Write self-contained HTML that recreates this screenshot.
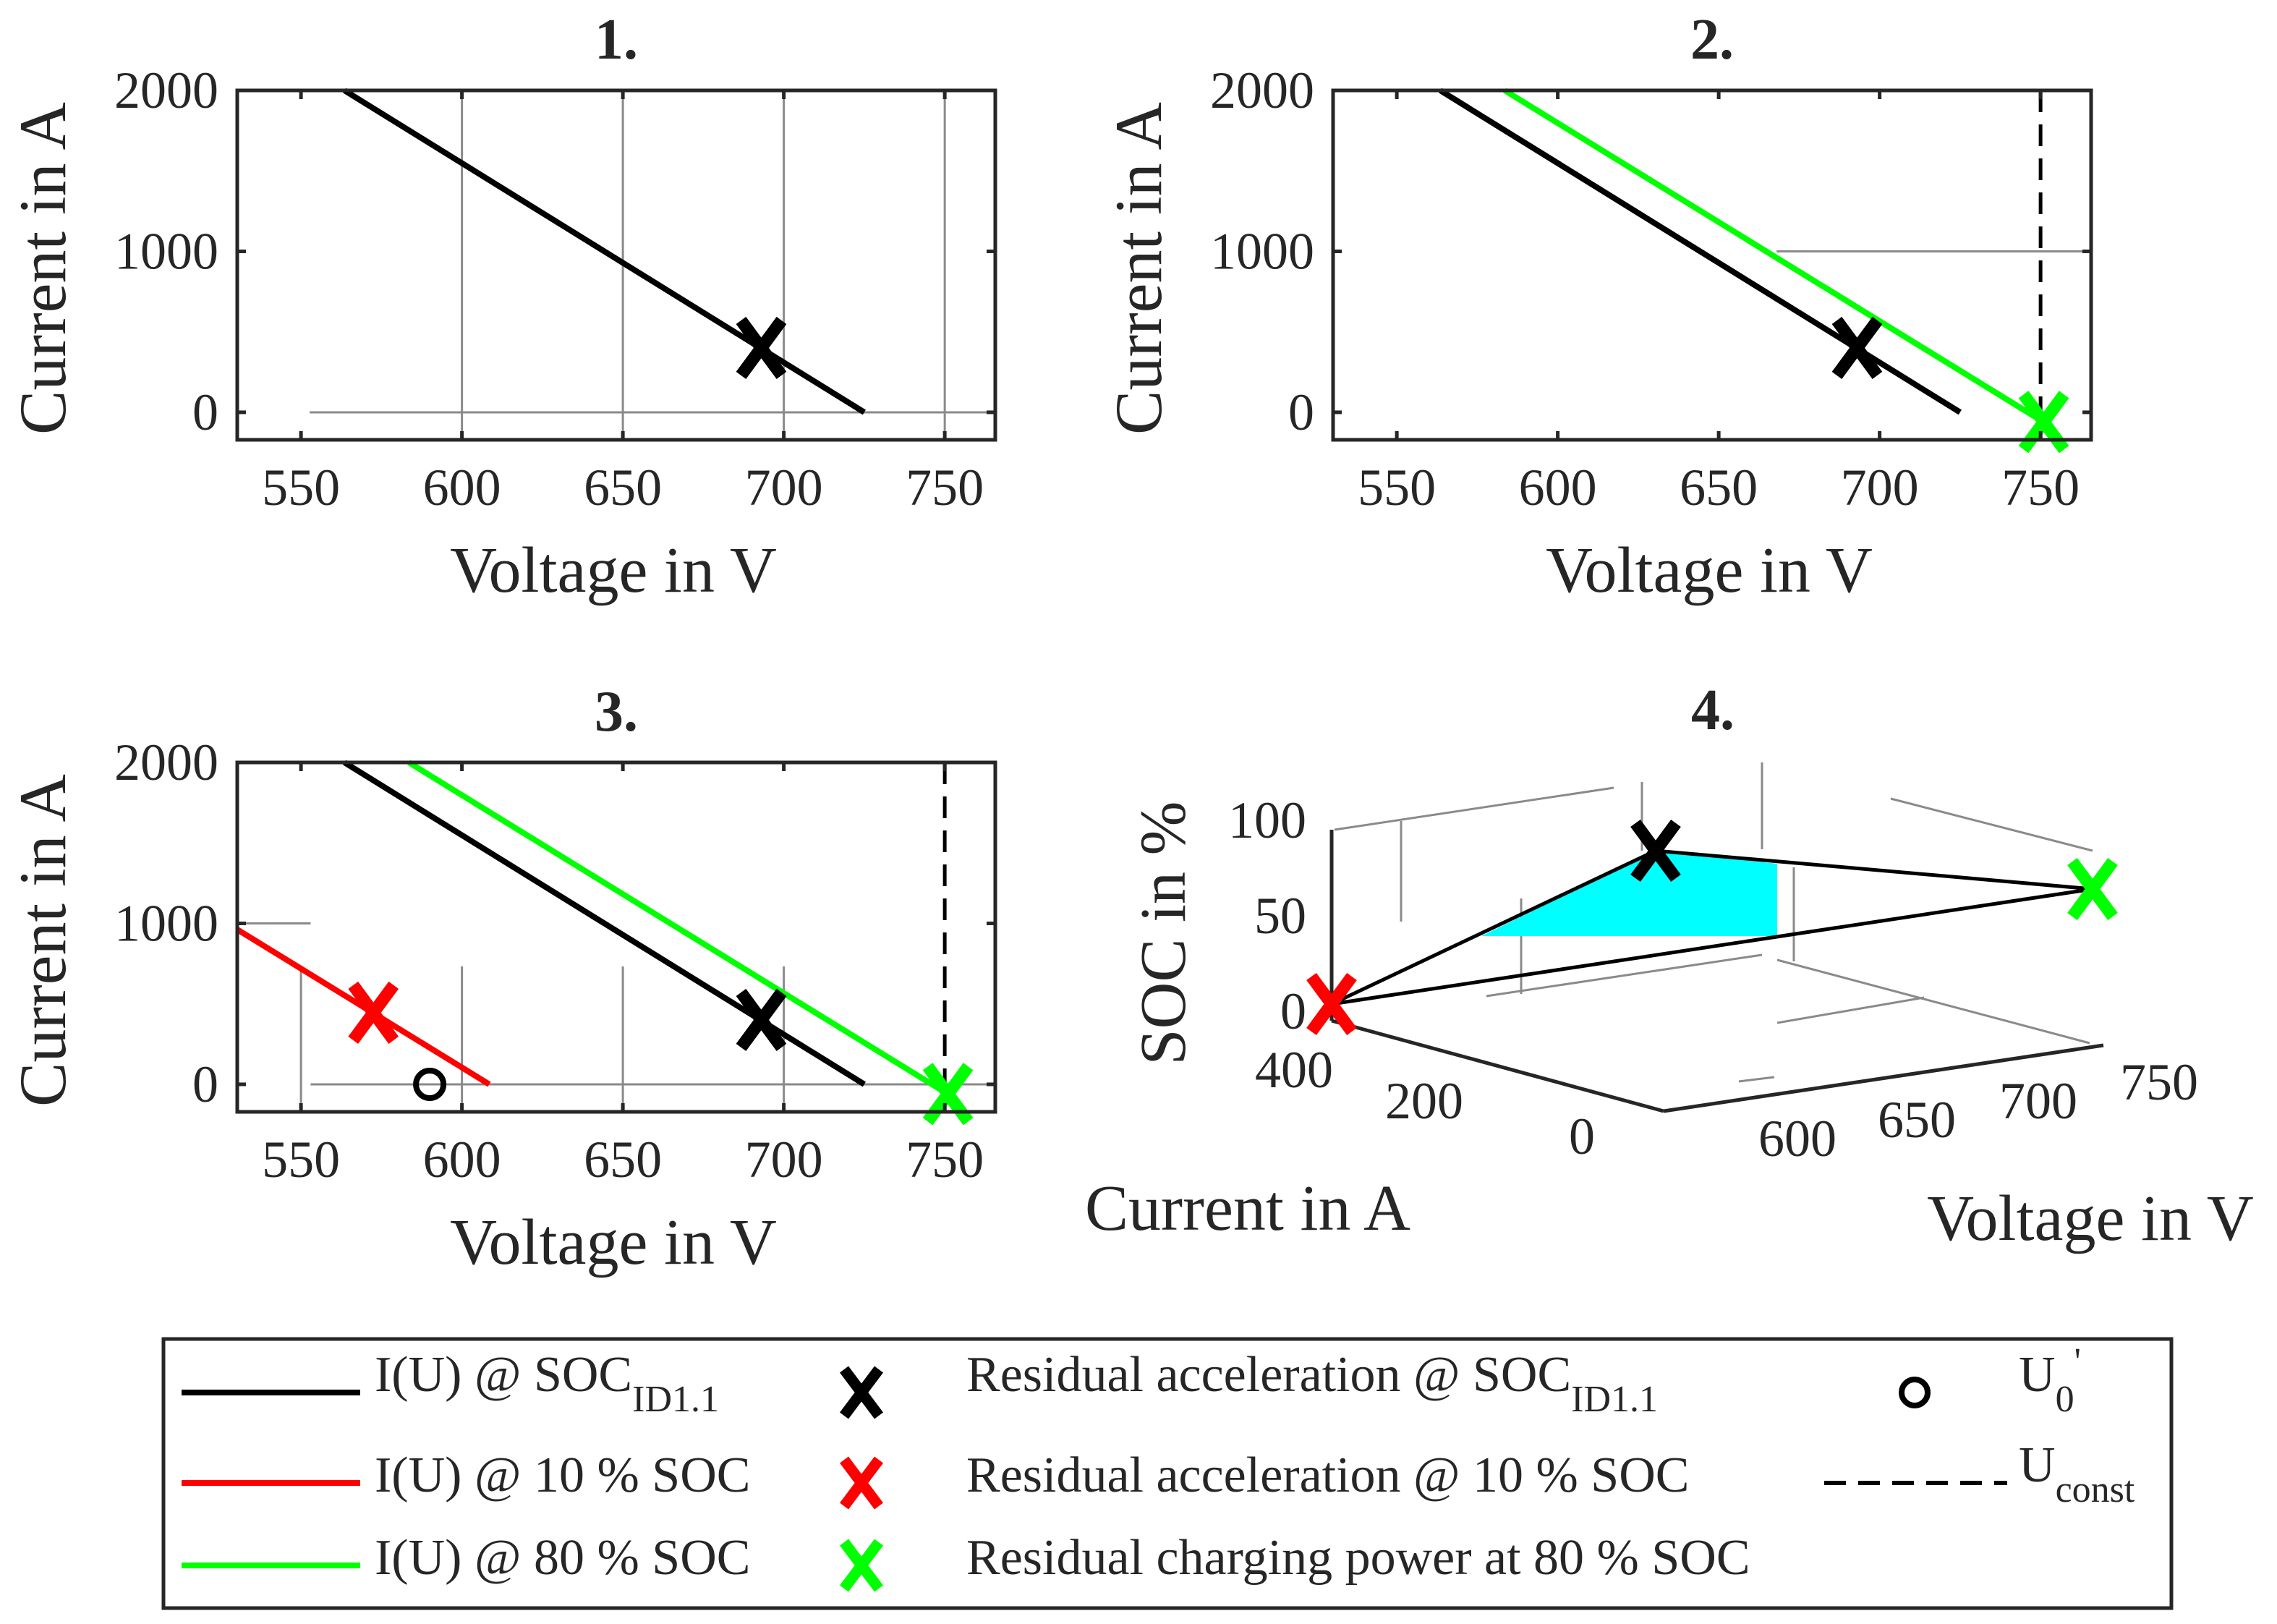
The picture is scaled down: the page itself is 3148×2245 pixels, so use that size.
<!DOCTYPE html>
<html><head><meta charset="utf-8"><style>
html,body{margin:0;padding:0;background:#fff}
svg{display:block}
text{font-family:"Liberation Serif",serif;fill:#262626}
</style></head><body>
<svg id="fig" width="3148" height="2245" viewBox="0 0 3148 2245" xmlns="http://www.w3.org/2000/svg">
<g id="root"></g>
<g id="legend">
  <rect x="226" y="1851" width="2776" height="372" fill="#fff" stroke="#262626" stroke-width="5"/>
  <g>
    <line x1="251" y1="1925" x2="498" y2="1925" stroke="#000" stroke-width="8"/>
    <text x="518" y="1923" font-size="70" fill="#000">I(U) @ SOC<tspan font-size="52" dy="28">ID1.1</tspan></text>
  </g>
  <g>
    <line x1="251" y1="2050" x2="498" y2="2050" stroke="#f00" stroke-width="8"/>
    <text x="518" y="2062" font-size="70" fill="#000">I(U) @ 10 % SOC</text>
  </g>
  <g>
    <line x1="251" y1="2164" x2="498" y2="2164" stroke="#0f0" stroke-width="8"/>
    <text x="518" y="2176" font-size="70" fill="#000">I(U) @ 80 % SOC</text>
  </g>
  <g>
    <path d="M1167,1893 L1215,1957 M1215,1893 L1167,1957" stroke="#000" stroke-width="15"/>
    <text x="1336" y="1923" font-size="70" fill="#000">Residual acceleration @ SOC<tspan font-size="52" dy="28">ID1.1</tspan></text>
  </g>
  <g>
    <path d="M1167,2018 L1215,2082 M1215,2018 L1167,2082" stroke="#f00" stroke-width="15"/>
    <text x="1336" y="2062" font-size="70" fill="#000">Residual acceleration @ 10 % SOC</text>
  </g>
  <g>
    <path d="M1167,2132 L1215,2196 M1215,2132 L1167,2196" stroke="#0f0" stroke-width="15"/>
    <text x="1336" y="2176" font-size="70" fill="#000">Residual charging power at 80 % SOC</text>
  </g>
  <g>
    <circle cx="2647" cy="1925" r="18" fill="none" stroke="#000" stroke-width="8"/>
    <text x="2791" y="1923" font-size="70" fill="#000">U<tspan font-size="52" dy="28">0</tspan><tspan dy="-52" font-size="52">'</tspan></text>
  </g>
  <g>
    <line x1="2522" y1="2050" x2="2775" y2="2050" stroke="#000" stroke-width="6" stroke-dasharray="30,17"/>
    <text x="2791" y="2048" font-size="70" fill="#000">U<tspan font-size="52" dy="28">const</tspan></text>
  </g>
</g>
</svg>
<script>
// ---- data ----
const xTicks = [550, 600, 650, 700, 750];
const yTicks = [0, 1000, 2000];
const blackLineV = [563.5, 725];
const blackLineI = [2000, 0];
const greenLineV = [583.5, 750.5];
const greenLineI = [2000, -55];
const redLineV = [530.2, 608.5];
const redLineI = [962, 0];
const blackX = [693, 400];
const greenX = [751, -60];
const redX = [572.5, 445];
const u0Point = [590, 0];
const uConst = 750;
const p4Points = [[1841,1388],[2289,1176],[2893,1229]];

const NS = 'http://www.w3.org/2000/svg';
const root = document.getElementById('root');
function mk(tag, attrs, parent) {
  const e = document.createElementNS(NS, tag);
  for (const k in attrs) e.setAttribute(k, attrs[k]);
  (parent || root).appendChild(e);
  return e;
}
const XMIN = 530.2, XMAX = 765.7, YMIN = -171, YMAX = 2000;

function panel(id, left, top, title) {
  const W = 1048, H = 483;
  const g = mk('g', {});
  
  
  const sx = v => left + (v - XMIN) / (XMAX - XMIN) * W;
  const sy = i => top + (YMAX - i) / (YMAX - YMIN) * H;
  return { g, sx, sy, left, top, W, H, title, id };
}
function frame(p) {
  const { g, sx, sy, left, top, W, H } = p;
  const fr = mk('rect', { x: left, y: top, width: W, height: H, fill: 'none', stroke: '#262626', 'stroke-width': 5 }, g);
  
  
  xTicks.forEach(v => {
    mk('line', { x1: sx(v), y1: top + H, x2: sx(v), y2: top + H - 12, stroke: '#262626', 'stroke-width': 5 }, g);
    mk('line', { x1: sx(v), y1: top, x2: sx(v), y2: top + 12, stroke: '#262626', 'stroke-width': 5 }, g);
    const t = mk('text', { x: sx(v), y: top + H + 90, 'font-size': 72, 'text-anchor': 'middle' }, g);
    t.textContent = v;
    
    
  });
  yTicks.forEach(i => {
    mk('line', { x1: left, y1: sy(i), x2: left + 12, y2: sy(i), stroke: '#262626', 'stroke-width': 5 }, g);
    mk('line', { x1: left + W, y1: sy(i), x2: left + W - 12, y2: sy(i), stroke: '#262626', 'stroke-width': 5 }, g);
    const t = mk('text', { x: left - 26, y: sy(i) + 24, 'font-size': 72, 'text-anchor': 'end' }, g);
    t.textContent = i;
    
    
  });
  const xt = mk('text', { x: left + 520, y: top + H + 210, 'font-size': 90, 'text-anchor': 'middle' }, g);
  xt.textContent = 'Voltage in V';
  
  
  const yt = mk('text', { x: 0, y: 0, 'font-size': 92, 'text-anchor': 'middle', transform: `translate(${left - 238},${top + 246}) rotate(-90)` }, g);
  yt.textContent = 'Current in A';
  
  
  const tt = mk('text', { x: left + 524, y: top - 44, 'font-size': 80, 'font-weight': 'bold', 'text-anchor': 'middle', fill: '#000' }, g);
  tt.textContent = p.title;
  
  
}
function grid(p, x1, y1, x2, y2) {
  const l = mk('line', { x1: p.sx(x1), y1: p.sy(y1), x2: p.sx(x2), y2: p.sy(y2), stroke: '#8a8a8a', 'stroke-width': 3 }, p.g);
  
  
}
function series(p, vs, is, color, name, dash) {
  const l = mk('line', { x1: p.sx(vs[0]), y1: p.sy(is[0]), x2: p.sx(vs[1]), y2: p.sy(is[1]), stroke: color, 'stroke-width': 8 }, p.g);
  if (dash) l.setAttribute('stroke-dasharray', dash);
  
  
}
function xmark(g, cx, cy, color, name) {
  const m = mk('path', { d: `M${cx - 28},${cy - 38} L${cx + 28},${cy + 38} M${cx + 28},${cy - 38} L${cx - 28},${cy + 38}`, stroke: color, 'stroke-width': 17, fill: 'none' }, g);
  
  
}
function vline(p, v, name) {
  const l = mk('line', { x1: p.sx(v), y1: p.top, x2: p.sx(v), y2: p.top + p.H, stroke: '#000', 'stroke-width': 5, 'stroke-dasharray': '30,17' }, p.g);
  
  
}

// Panel 1
const p1 = panel(1, 328, 125, '1.');
[600, 650, 700, 750].forEach(v => grid(p1, v, YMIN, v, YMAX));
grid(p1, 552.7, 0, XMAX, 0);
series(p1, blackLineV, blackLineI, '#000', 'iu-line-soc-id11');
xmark(p1.g, p1.sx(blackX[0]), p1.sy(blackX[1]), '#000', 'residual-accel-marker');
frame(p1);

// Panel 2
const p2 = panel(2, 1843, 125, '2.');
grid(p2, 668, 1000, XMAX, 1000);
series(p2, blackLineV, blackLineI, '#000', 'iu-line-soc-id11');
series(p2, greenLineV, greenLineI, '#0f0', 'iu-line-80-soc');
vline(p2, uConst, 'u-const-line');
xmark(p2.g, p2.sx(blackX[0]), p2.sy(blackX[1]), '#000', 'residual-accel-marker');
xmark(p2.g, p2.sx(greenX[0]), p2.sy(greenX[1]), '#0f0', 'residual-charging-marker');
frame(p2);

// Panel 3
const p3 = panel(3, 328, 1054, '3.');
grid(p3, XMIN, 1000, 553, 1000);
grid(p3, 553, 0, XMAX, 0);
[550, 600, 650, 700].forEach(v => grid(p3, v, YMIN, v, 733));
series(p3, redLineV, redLineI, '#f00', 'iu-line-10-soc');
series(p3, blackLineV, blackLineI, '#000', 'iu-line-soc-id11');
series(p3, greenLineV, greenLineI, '#0f0', 'iu-line-80-soc');
vline(p3, uConst, 'u-const-line');
const c = mk('circle', { cx: p3.sx(u0Point[0]), cy: p3.sy(u0Point[1]), r: 19, fill: 'none', stroke: '#000', 'stroke-width': 8 }, p3.g);


xmark(p3.g, p3.sx(redX[0]), p3.sy(redX[1]), '#f00', 'residual-accel-10-marker');
xmark(p3.g, p3.sx(blackX[0]), p3.sy(blackX[1]), '#000', 'residual-accel-marker');
xmark(p3.g, p3.sx(greenX[0]), p3.sy(greenX[1]), '#0f0', 'residual-charging-marker');
frame(p3);

// Panel 4 (3D)
const g4 = mk('g', {});


const grid4 = [[1845,1147,2231,1089],[1937,1135,1937,1274],[2270,1081,2270,1176],[2436,1054,2436,1174],[2614,1104,2893,1176],[2480,1199,2480,1329],[2103,1242,2103,1374],[2055,1377,2436,1320],[2457,1327,2889,1442],[2457,1414,2660,1379],[2404,1495,2453,1489]];
grid4.forEach(s => {
  const l = mk('line', { x1: s[0], y1: s[1], x2: s[2], y2: s[3], stroke: '#8a8a8a', 'stroke-width': 3 }, g4);
  
  
});
const cyan = mk('polygon', { points: '2048,1294 2289,1176 2457,1194 2457,1294', fill: '#0ff' }, g4);


const axes4 = [[1841,1147,1841,1411],[1841,1411,2300,1536],[2300,1536,2908,1445]];
axes4.forEach(s => {
  const l = mk('line', { x1: s[0], y1: s[1], x2: s[2], y2: s[3], stroke: '#262626', 'stroke-width': 5 }, g4);
  
  
});
const tri = mk('polygon', { points: p4Points.map(p => p.join(',')).join(' '), fill: 'none', stroke: '#000', 'stroke-width': 5 }, g4);


xmark(g4, p4Points[0][0], p4Points[0][1], '#f00', 'red-marker-3d');
xmark(g4, p4Points[1][0], p4Points[1][1], '#000', 'black-marker-3d');
xmark(g4, p4Points[2][0], p4Points[2][1], '#0f0', 'green-marker-3d');
const lab4 = [['100',1806,1158,'end'],['50',1806,1290,'end'],['0',1806,1422,'end'],['400',1789,1503,'middle'],['200',1969,1546,'middle'],['0',2187,1595,'middle'],['600',2485,1598,'middle'],['650',2650,1572,'middle'],['700',2818,1546,'middle'],['750',2985,1520,'middle']];
lab4.forEach(a => {
  const t = mk('text', { x: a[1], y: a[2], 'font-size': 72, 'text-anchor': a[3] }, g4);
  t.textContent = a[0];
  
  
});
const t4 = mk('text', { x: 2368, y: 1008, 'font-size': 80, 'font-weight': 'bold', 'text-anchor': 'middle', fill: '#000' }, g4);
t4.textContent = '4.';


const a1 = mk('text', { x: 1725, y: 1700, 'font-size': 90, 'text-anchor': 'middle' }, g4);
a1.textContent = 'Current in A';


const a2 = mk('text', { x: 2890, y: 1714, 'font-size': 90, 'text-anchor': 'middle' }, g4);
a2.textContent = 'Voltage in V';


const a3 = mk('text', { x: 0, y: 0, 'font-size': 90, 'text-anchor': 'middle', transform: 'translate(1638,1290) rotate(-90)' }, g4);
a3.textContent = 'SOC in %';


</script>
</body></html>
